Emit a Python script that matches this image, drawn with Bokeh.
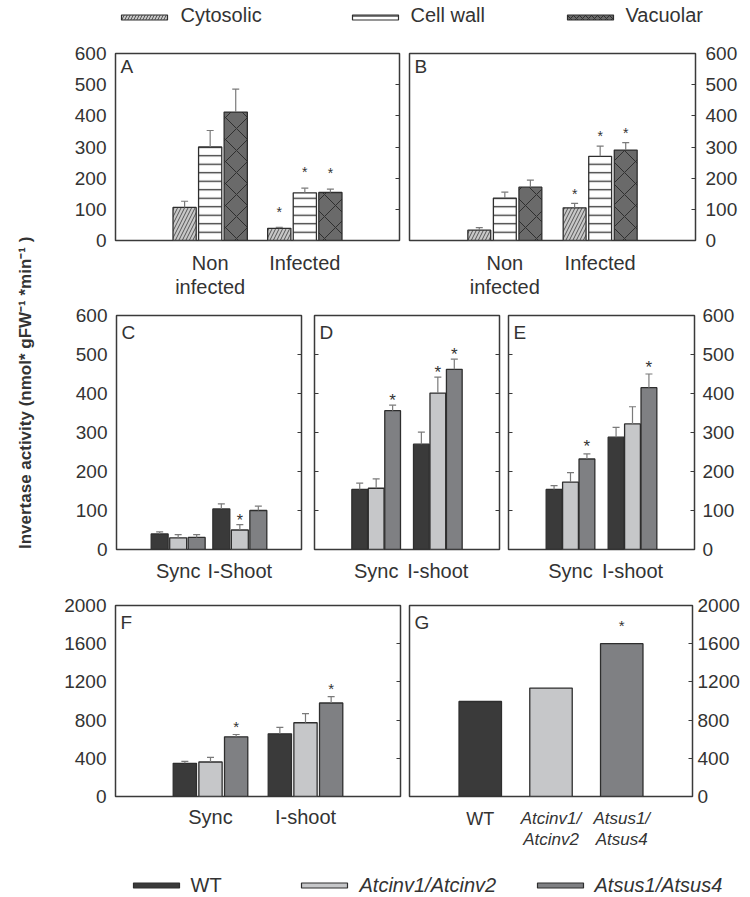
import math
from bokeh.plotting import figure
from bokeh.models import Range1d, LinearAxis, FixedTicker, Label
from bokeh.layouts import column, row
from bokeh.embed import file_html
from bokeh.resources import INLINE
from bokeh.core.properties import value

# ---------------- data ----------------
fractions = ["Cytosolic", "Cell wall", "Vacuolar"]
genotypes = ["WT", "Atcinv1/Atcinv2", "Atsus1/Atsus4"]
ab_groups = ["Non\ninfected", "Infected"]
c_groups = ["Sync", "I-Shoot"]
de_groups = ["Sync", "I-shoot"]
f_groups = ["Sync", "I-shoot"]
g_line1 = ["WT", "Atcinv1/", "Atsus1/"]
g_line2 = ["", "Atcinv2", "Atsus4"]
yticks_600 = [0, 100, 200, 300, 400, 500, 600]
yticks_2000 = [0, 400, 800, 1200, 1600, 2000]
y_title = "Invertase activity  (nmol* gFW\u207b\u00b9 *min\u207b\u00b9 )"

# Panel A (fractions; Non infected / Infected)
a_cyto = [106, 39];  a_cyto_se = [20, 3];  a_cyto_sig = [False, True]
a_cw = [300, 153];   a_cw_se = [53, 15];   a_cw_sig = [False, True]
a_vac = [412, 154];  a_vac_se = [74, 11];  a_vac_sig = [False, True]
# Panel B
b_cyto = [33, 105];  b_cyto_se = [8, 14];  b_cyto_sig = [False, True]
b_cw = [136, 270];   b_cw_se = [19, 33];   b_cw_sig = [False, True]
b_vac = [171, 290];  b_vac_se = [23, 24];  b_vac_sig = [False, True]
# Panel C (genotypes; Sync / I-Shoot)
c_wt = [40, 104];    c_wt_se = [5, 13];    c_wt_sig = [False, False]
c_inv = [30, 50];    c_inv_se = [8, 14];   c_inv_sig = [False, True]
c_sus = [31, 100];   c_sus_se = [7, 11];   c_sus_sig = [False, False]
# Panel D
d_wt = [154, 270];   d_wt_se = [16, 31];   d_wt_sig = [False, False]
d_inv = [157, 401];  d_inv_se = [24, 41];  d_inv_sig = [False, True]
d_sus = [356, 462];  d_sus_se = [14, 26];  d_sus_sig = [True, True]
# Panel E
e_wt = [154, 288];   e_wt_se = [10, 25];   e_wt_sig = [False, False]
e_inv = [173, 322];  e_inv_se = [24, 44];  e_inv_sig = [False, False]
e_sus = [232, 415];  e_sus_se = [13, 35];  e_sus_sig = [True, True]
# Panel F
f_wt = [347, 656];   f_wt_se = [21, 67];   f_wt_sig = [False, False]
f_inv = [361, 772];  f_inv_se = [49, 95];  f_inv_sig = [False, False]
f_sus = [625, 979];  f_sus_se = [24, 67];  f_sus_sig = [True, True]
# Panel G (single values)
g_vals = [995, 1135, 1600]
g_sig = [False, False, True]

# ---------------- style ----------------
FONT = "Liberation Sans"
TXT = "#333333"
FRAME = "#3a3a3a"
BAR_LINE = "#2e2e2e"
ERR = "#7a7a7a"
GENO_COL = ["#3a3a3a", "#c6c7c9", "#7f8083"]
FRAC_STYLE = [
    dict(fill_color="#c8c8c8", hatch_pattern="right_diagonal_line", hatch_color="#555555", hatch_scale=7, hatch_weight=1),
    dict(fill_color="#ffffff", hatch_pattern="horizontal_line", hatch_color="#333333", hatch_scale=8.5, hatch_weight=1.3),
    dict(fill_color="#6a6a6a", hatch_pattern="diagonal_cross", hatch_color="#2e2e2e", hatch_scale=22, hatch_weight=1),
]


def base_fig(w, h, bl, br, bt, bb, ymax, side, xmax=3):
    p = figure(width=w, height=h, x_range=Range1d(0, xmax), y_range=Range1d(0, ymax),
               toolbar_location=None, output_backend="svg", title=None,
               y_axis_location=side, min_border_left=bl, min_border_right=br,
               min_border_top=bt, min_border_bottom=bb)
    p.grid.visible = False
    p.outline_line_color = FRAME
    p.outline_line_width = 1.5
    p.background_fill_color = "white"
    p.border_fill_color = "white"
    return p


def style_y(ax, ticks, labels, tick_in, standoff=9):
    ax.ticker = FixedTicker(ticks=ticks)
    ax.axis_line_color = None
    ax.minor_tick_line_color = None
    ax.major_tick_out = 0
    ax.major_tick_in = 4 if tick_in else 0
    ax.major_tick_line_color = FRAME if tick_in else None
    ax.major_tick_line_width = 1.2
    if labels:
        ax.major_label_text_font = FONT
        ax.major_label_text_font_size = "19px"
        ax.major_label_text_color = TXT
        ax.major_label_standoff = standoff
    else:
        ax.major_label_text_font_size = "0px"
        ax.major_label_text_color = None
        ax.major_label_standoff = 0


def add_y(p, ticks, labels, tick_in, side, standoff=9):
    ax = LinearAxis()
    style_y(ax, ticks, labels, tick_in, standoff)
    p.add_layout(ax, side)


def style_x(p, labels, standoff, visible=True):
    ax = p.xaxis[0]
    if not visible:
        ax.visible = False
        return
    ax.ticker = FixedTicker(ticks=[1, 2])
    ax.major_label_overrides = {1: labels[0], 2: labels[1]}
    ax.axis_line_color = None
    ax.minor_tick_line_color = None
    ax.major_tick_line_color = None
    ax.major_tick_in = 0
    ax.major_tick_out = 0
    ax.major_label_text_font = FONT
    ax.major_label_text_font_size = "20px"
    ax.major_label_text_color = TXT
    ax.major_label_text_line_height = 1.1
    ax.major_label_standoff = standoff


def draw_series(p, k, means, ses, sigs, offset, width, ppu_y, ppu_x, style, star_gap, star_size="15px"):
    xs = [g + 1 + (k - 1) * offset for g in range(len(means))]
    p.vbar(x=xs, top=means, bottom=0, width=width, line_color=BAR_LINE, line_width=1.3, **style)
    tops = [m + s for m, s in zip(means, ses)]
    cap = 3.5 / ppu_x
    p.segment(x0=xs, y0=means, x1=xs, y1=tops, line_color=ERR, line_width=1.2)
    p.segment(x0=[x - cap for x in xs], y0=tops, x1=[x + cap for x in xs], y1=tops,
              line_color=ERR, line_width=1.2)
    sx = [x for x, s in zip(xs, sigs) if s]
    sy = [t + star_gap / ppu_y for t, s in zip(tops, sigs) if s]
    if sx:
        p.text(x=sx, y=sy, text=["*"] * len(sx), text_align="center", text_baseline="alphabetic",
               text_font=value(FONT), text_font_size=star_size, text_color=TXT)


def letter(p, txt, ymax, ppu_y, down):
    p.add_layout(Label(x=0, y=ymax - down / ppu_y, x_offset=5, text=txt, text_baseline="top",
                       text_font=FONT, text_font_size="19px", text_color=TXT))


# ---------------- row 1: A, B ----------------
fh1 = 189
pA = base_fig(366, 260, 77, 5, 13, 58, 600, "left")
style_y(pA.yaxis[0], yticks_600, True, False)
add_y(pA, yticks_600, False, True, "right")
style_x(pA, ab_groups, 11)
ppuA = fh1 / 600
for k, (m, s, g) in enumerate([(a_cyto, a_cyto_se, a_cyto_sig), (a_cw, a_cw_se, a_cw_sig), (a_vac, a_vac_se, a_vac_sig)]):
    draw_series(pA, k, m, s, g, 0.27, 0.245, ppuA, 284 / 3, FRAC_STYLE[k], 16, "14px")
letter(pA, "A", 600, ppuA, 3)

pB = base_fig(338, 260, 5, 47, 13, 58, 600, "right")
style_y(pB.yaxis[0], yticks_600, True, True, 10)
style_x(pB, ab_groups, 11)
for k, (m, s, g) in enumerate([(b_cyto, b_cyto_se, b_cyto_sig), (b_cw, b_cw_se, b_cw_sig), (b_vac, b_vac_se, b_vac_sig)]):
    draw_series(pB, k, m, s, g, 0.268, 0.24, ppuA, 286 / 3, FRAC_STYLE[k], 10, "14px")
letter(pB, "B", 600, ppuA, 3)

# ---------------- row 2: C, D, E ----------------
fh2 = 234
ppu2 = fh2 / 600
pC = base_fig(269, 290, 78, 6, 15, 41, 600, "left")
style_y(pC.yaxis[0], yticks_600, True, False)
add_y(pC, yticks_600, False, True, "right")
style_x(pC, c_groups, 10)
for k, (m, s, g) in enumerate([(c_wt, c_wt_se, c_wt_sig), (c_inv, c_inv_se, c_inv_sig), (c_sus, c_sus_se, c_sus_sig)]):
    draw_series(pC, k, m, s, g, 0.3, 0.275, ppu2, 185 / 3, dict(fill_color=GENO_COL[k]), 4, "16px")
letter(pC, "C", 600, ppu2, 6)

pD = base_fig(196, 290, 7, 4, 15, 41, 600, "left")
style_y(pD.yaxis[0], yticks_600, False, True)
add_y(pD, yticks_600, False, True, "right")
style_x(pD, de_groups, 10)
for k, (m, s, g) in enumerate([(d_wt, d_wt_se, d_wt_sig), (d_inv, d_inv_se, d_inv_sig), (d_sus, d_sus_se, d_sus_sig)]):
    draw_series(pD, k, m, s, g, 0.267, 0.255, ppu2, 185 / 3, dict(fill_color=GENO_COL[k]), 5, "17px")
letter(pD, "D", 600, ppu2, 6)

pE = base_fig(239, 290, 5, 48, 15, 41, 600, "right")
style_y(pE.yaxis[0], yticks_600, True, True, 8)
add_y(pE, yticks_600, False, True, "left")
style_x(pE, de_groups, 10)
for k, (m, s, g) in enumerate([(e_wt, e_wt_se, e_wt_sig), (e_inv, e_inv_se, e_inv_sig), (e_sus, e_sus_se, e_sus_sig)]):
    draw_series(pE, k, m, s, g, 0.265, 0.255, ppu2, 186 / 3, dict(fill_color=GENO_COL[k]), 7, "17px")
letter(pE, "E", 600, ppu2, 6)

# ---------------- row 3: F, G ----------------
fh3 = 191
ppu3 = fh3 / 2000
pF = base_fig(367, 260, 77, 5, 15, 54, 2000, "left")
style_y(pF.yaxis[0], yticks_2000, True, False)
add_y(pF, yticks_2000, False, True, "right")
style_x(pF, f_groups, 9)
for k, (m, s, g) in enumerate([(f_wt, f_wt_se, f_wt_sig), (f_inv, f_inv_se, f_inv_sig), (f_sus, f_sus_se, f_sus_sig)]):
    draw_series(pF, k, m, s, g, 0.27, 0.245, ppu3, 285 / 3, dict(fill_color=GENO_COL[k]), 8, "15px")
letter(pF, "F", 2000, ppu3, 6)

g_bb = 11
pG = base_fig(337, 15 + fh3 + g_bb, 4, 48, 15, g_bb, 2000, "right", xmax=4)
style_y(pG.yaxis[0], yticks_2000, True, True, 5)
style_x(pG, None, 0, visible=False)
gx = [1, 2, 3]
pG.vbar(x=gx, top=g_vals, bottom=0, width=0.6, fill_color=GENO_COL, line_color=BAR_LINE, line_width=1.3)
gsx = [x for x, s in zip(gx, g_sig) if s]
gsy = [v + 18 / ppu3 for v, s in zip(g_vals, g_sig) if s]
pG.text(x=gsx, y=gsy, text=["*"] * len(gsx), text_align="center", text_baseline="alphabetic",
        text_font=value(FONT), text_font_size="15px", text_color=TXT)
letter(pG, "G", 2000, ppu3, 6)

# category labels of G, drawn in a strip under G sharing its x range
gl_h = 260 - (15 + fh3 + g_bb)
pGl = figure(width=337, height=gl_h, x_range=pG.x_range, y_range=Range1d(0, gl_h),
             toolbar_location=None, output_backend="svg", title=None,
             x_axis_type=None, y_axis_type=None, min_border_left=4, min_border_right=48,
             min_border_top=0, min_border_bottom=0)
pGl.grid.visible = False
pGl.outline_line_color = None
y1 = gl_h - (22 - g_bb)
y2 = gl_h - (43 - g_bb)
pGl.text(x=gx[:1], y=[y1], text=g_line1[:1], text_align="center", text_baseline="middle",
         text_font=value(FONT), text_font_size="18px", text_color=TXT)
pGl.text(x=gx[1:], y=[y1] * 2, text=g_line1[1:], text_align="center", text_baseline="middle",
         text_font=value(FONT), text_font_size="17px", text_font_style="italic", text_color=TXT)
pGl.text(x=gx[1:], y=[y2] * 2, text=g_line2[1:], text_align="center", text_baseline="middle",
         text_font=value(FONT), text_font_size="17px", text_font_style="italic", text_color=TXT)

# ---------------- y title ----------------
ylab = figure(width=38, height=810, x_range=Range1d(0, 38), y_range=Range1d(0, 810),
              toolbar_location=None, output_backend="svg", title=None,
              x_axis_type=None, y_axis_type=None, min_border=0)
ylab.grid.visible = False
ylab.outline_line_color = None
ylab.text(x=[25], y=[460], text=[y_title], angle=math.pi / 2, text_align="center",
          text_baseline="middle", text_font=value(FONT), text_font_size="17px",
          text_font_style="bold", text_color=TXT)

# ---------------- legends ----------------
def legend_fig(h):
    f = figure(width=742, height=h, x_range=Range1d(0, 742), y_range=Range1d(0, h),
               toolbar_location=None, output_backend="svg", title=None,
               x_axis_type=None, y_axis_type=None, min_border=0)
    f.grid.visible = False
    f.outline_line_color = None
    return f

top_h = 40
top_leg = legend_fig(top_h)
sw_x = [144, 375, 590]
tx_x = [180, 410, 625]
for k in range(3):
    st = dict(FRAC_STYLE[k])
    st["hatch_scale"] = min(st["hatch_scale"], 6)
    top_leg.rect(x=[sw_x[k]], y=[top_h - 17], width=46, height=5, line_color=BAR_LINE, line_width=1.2, **st)
top_leg.text(x=tx_x, y=[top_h - 14] * 3, text=fractions, text_baseline="middle",
             text_font=value(FONT), text_font_size="20px", text_color=TXT)

bot_h = 47
bot_leg = legend_fig(bot_h)
bsw_x = [156, 324, 560]
btx_x = [190, 359, 594]
bot_leg.rect(x=bsw_x, y=[bot_h - 35] * 3, width=46, height=5, fill_color=GENO_COL, line_color=BAR_LINE, line_width=1.2)
bot_leg.text(x=btx_x[:1], y=[bot_h - 34], text=genotypes[:1], text_baseline="middle",
             text_font=value(FONT), text_font_size="20px", text_color=TXT)
bot_leg.text(x=btx_x[1:], y=[bot_h - 34] * 2, text=genotypes[1:], text_baseline="middle",
             text_font=value(FONT), text_font_size="20px", text_font_style="italic", text_color=TXT)

layout = column(top_leg,
                row(ylab, column(row(pA, pB), row(pC, pD, pE), row(pF, column(pG, pGl)))),
                bot_leg)

open("out.html", "w").write(file_html(layout, INLINE))
